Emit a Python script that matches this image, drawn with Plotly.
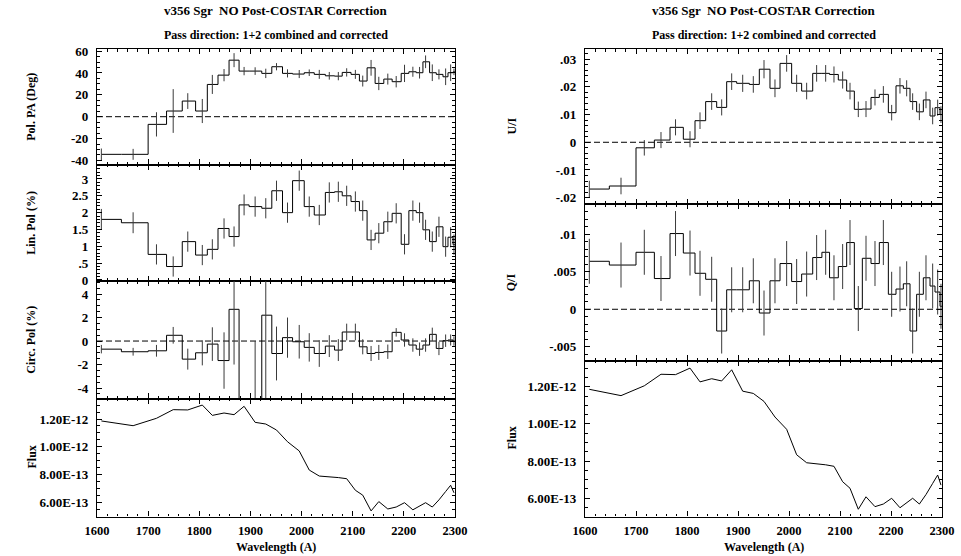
import plotly.graph_objects as go

W, H = 961, 556

# ---------------- data ----------------
bin_centers = [1608.5, 1670.6, 1716.3, 1749.0, 1777.5, 1805.9, 1825.5, 1848.4, 1868.0, 1887.6,
               1909.2, 1930.0, 1951.0, 1972.5, 1995.4, 2015.0, 2034.6, 2054.2, 2071.9, 2088.2,
               2105.2, 2119.6, 2135.9, 2151.0, 2168.6, 2185.0, 2201.3, 2217.6, 2230.7, 2242.5,
               2255.6, 2268.6, 2281.7, 2291.5, 2298.0]
bin_edges = [1608.5, 1647.7, 1700.0, 1736.0, 1766.7, 1792.8, 1815.7, 1836.6, 1858.2, 1877.8,
             1897.4, 1922.2, 1941.8, 1962.7, 1982.4, 2005.2, 2024.8, 2046.5, 2064.5, 2079.5,
             2096.7, 2113.1, 2128.1, 2143.8, 2160.8, 2177.1, 2194.8, 2209.8, 2224.2, 2237.3,
             2250.3, 2263.4, 2276.5, 2286.3, 2296.1, 2300.0]

pol_pa = [-34.4, -34.4, -7.0, 5.2, 14.3, 5.2, 29.5, 38.0, 51.7, 41.7,
          41.7, 39.6, 45.7, 39.6, 39.0, 40.2, 38.7, 37.4, 37.1, 40.5,
          38.7, 32.6, 44.7, 30.4, 34.4, 32.0, 39.6, 41.1, 40.2, 50.2,
          40.2, 38.7, 36.5, 40.2, 41.0]
pol_pa_err = [5.3, 5.0, 11.1, 20.0, 7.2, 11.0, 8.7, 5.6, 6.4, 3.8,
              3.5, 4.3, 3.3, 3.7, 3.7, 3.0, 4.1, 3.5, 3.8, 3.8,
              4.1, 5.0, 7.2, 6.1, 5.0, 5.2, 7.9, 4.6, 5.3, 5.8,
              7.6, 4.6, 7.6, 7.6, 3.0]

lin_pol = [1.80, 1.70, 0.76, 0.40, 1.14, 0.74, 0.91, 1.53, 1.29, 2.23,
           2.18, 2.13, 2.65, 2.00, 2.95, 2.18, 1.93, 2.60, 2.62, 2.50,
           2.33, 2.06, 1.19, 1.39, 1.73, 1.98, 1.06, 2.06, 2.00, 1.49,
           1.14, 1.58, 0.99, 1.27, 1.05]
lin_pol_err = [0.31, 0.31, 0.30, 0.30, 0.30, 0.30, 0.30, 0.30, 0.30, 0.31,
               0.30, 0.30, 0.30, 0.30, 0.30, 0.30, 0.30, 0.30, 0.30, 0.30,
               0.30, 0.30, 0.30, 0.30, 0.30, 0.30, 0.30, 0.30, 0.30, 0.30,
               0.30, 0.30, 0.30, 0.30, 0.30]

circ_pol = [-0.69, -0.91, -0.83, 0.49, -1.54, -1.00, -0.26, -1.66, 2.70, -9.0,
            -6.0, 2.20, -1.06, 0.29, -0.06, -0.54, -1.06, -0.43, -0.77, 0.77,
            0.77, -0.49, -1.06, -0.97, -0.91, 0.74, 0.09, -0.34, -0.69, -0.34,
            0.57, -0.63, 0.03, 0.09, 0.00]
circ_pol_err = [0.36, 0.33, 0.50, 0.71, 0.89, 1.07, 1.43, 2.40, 4.70, 3.0,
                6.0, 7.5, 2.29, 1.71, 1.43, 1.21, 1.14, 0.93, 0.93, 0.71,
                0.71, 0.64, 0.64, 0.64, 0.61, 0.36, 0.57, 0.57, 0.57, 0.57,
                0.57, 0.57, 0.53, 0.47, 0.40]

u_over_i = [-0.0169, -0.0158, -0.0020, 0.0008, 0.0054, 0.0011, 0.0078, 0.0147, 0.0126, 0.0219,
            0.0213, 0.0209, 0.0264, 0.0195, 0.0285, 0.0213, 0.0185, 0.0249, 0.0249, 0.0245,
            0.0225, 0.0185, 0.0119, 0.0120, 0.0162, 0.0173, 0.0107, 0.0204, 0.0195, 0.0147,
            0.0110, 0.0153, 0.0095, 0.0125, 0.0100]
u_over_i_err = [0.0030, 0.0030, 0.0028, 0.0029, 0.0029, 0.0029, 0.0030, 0.0030, 0.0029, 0.0030,
                0.0031, 0.0030, 0.0033, 0.0032, 0.0030, 0.0031, 0.0030, 0.0030, 0.0030, 0.0029,
                0.0031, 0.0030, 0.0028, 0.0029, 0.0029, 0.0030, 0.0028, 0.0028, 0.0029, 0.0030,
                0.0030, 0.0030, 0.0030, 0.0029, 0.0030]

q_over_i = [0.0064, 0.0059, 0.0076, 0.0041, 0.0101, 0.0075, 0.0048, 0.0040, -0.0029, 0.0026,
            0.0026, 0.0038, -0.0005, 0.0038, 0.0061, 0.0037, 0.0047, 0.0069, 0.0076, 0.0042,
            0.0057, 0.0089, 0.0001, 0.0068, 0.0061, 0.0089, 0.0020, 0.0027, 0.0034, -0.0029,
            0.0020, 0.0042, 0.0031, 0.0023, 0.0004]
q_over_i_err = [0.0030, 0.0030, 0.0030, 0.0030, 0.0030, 0.0030, 0.0030, 0.0030, 0.0030, 0.0030,
                0.0030, 0.0030, 0.0030, 0.0030, 0.0030, 0.0030, 0.0030, 0.0030, 0.0030, 0.0030,
                0.0030, 0.0030, 0.0030, 0.0030, 0.0030, 0.0030, 0.0030, 0.0030, 0.0030, 0.0030,
                0.0030, 0.0030, 0.0030, 0.0030, 0.0030]

flux = [1.186e-12, 1.152e-12, 1.205e-12, 1.267e-12, 1.265e-12, 1.300e-12, 1.226e-12, 1.243e-12, 1.231e-12, 1.291e-12,
        1.176e-12, 1.164e-12, 1.121e-12, 1.037e-12, 0.971e-12, 0.834e-12, 0.791e-12, 0.787e-12, 0.780e-12, 0.772e-12,
        0.689e-12, 0.654e-12, 0.541e-12, 0.608e-12, 0.555e-12, 0.569e-12, 0.600e-12, 0.549e-12, 0.575e-12, 0.600e-12,
        0.569e-12, 0.620e-12, 0.680e-12, 0.725e-12, 0.671e-12]

x_ticks = [1600, 1700, 1800, 1900, 2000, 2100, 2200, 2300]

title_main = "v356 Sgr  NO Post-COSTAR Correction"
title_sub = "Pass direction: 1+2 combined and corrected"
x_title = "Wavelength (A)"

# ---------------- layout geometry ----------------
FONT = "Liberation Serif, Times New Roman, serif"
LEFT = (97, 455)
RIGHT = (585, 942)

panels = [
    dict(col=LEFT, top=49, bot=164.5, rng=[-43.7, 61.9], tv=[-40, -20, 0, 20, 40, 60],
         tt=["-40", "-20", "0", "20", "40", "60"], minor=5, title="Pol. PA (Deg)",
         vals=pol_pa, err=pol_pa_err, zero=True),
    dict(col=LEFT, top=164.5, bot=281, rng=[-0.03, 3.43], tv=[0, 0.5, 1, 1.5, 2, 2.5, 3],
         tt=["0", ".5", "1", "1.5", "2", "2.5", "3"], minor=0.1, title="Lin. Pol (%)",
         vals=lin_pol, err=lin_pol_err, zero=False),
    dict(col=LEFT, top=281, bot=398.5, rng=[-4.89, 5.11], tv=[-4, -2, 0, 2, 4],
         tt=["-4", "-2", "0", "2", "4"], minor=0.5, title="Circ. Pol (%)",
         vals=circ_pol, err=circ_pol_err, zero=True),
    dict(col=LEFT, top=398.5, bot=516.5, rng=[5.01e-13, 1.347e-12], tv=[6e-13, 8e-13, 1e-12, 1.2e-12],
         tt=["6.00E-13", "8.00E-13", "1.00E-12", "1.20E-12"], minor=5e-14, title="Flux",
         vals=flux, err=None, zero=False),
    dict(col=RIGHT, top=49, bot=204, rng=[-0.0223, 0.0337], tv=[-0.02, -0.01, 0, 0.01, 0.02, 0.03],
         tt=["-.02", "-.01", "0", ".01", ".02", ".03"], minor=0.002, title="U/I",
         vals=u_over_i, err=u_over_i_err, zero=True),
    dict(col=RIGHT, top=204, bot=360.5, rng=[-0.00683, 0.01404], tv=[-0.005, 0, 0.005, 0.01],
         tt=["-.005", "0", ".005", ".01"], minor=0.001, title="Q/I",
         vals=q_over_i, err=q_over_i_err, zero=True),
    dict(col=RIGHT, top=360.5, bot=516.5, rng=[5.02e-13, 1.341e-12], tv=[6e-13, 8e-13, 1e-12, 1.2e-12],
         tt=["6.00E-13", "8.00E-13", "1.00E-12", "1.20E-12"], minor=5e-14, title="Flux",
         vals=flux, err=None, zero=False),
]

fig = go.Figure()
layout = dict(template="none", width=W, height=H, autosize=False,
              margin=dict(l=0, r=0, t=0, b=0, pad=0),
              paper_bgcolor="white", plot_bgcolor="white", showlegend=False,
              font=dict(family=FONT, color="black"))
annotations = []
shapes = []

tickfont = dict(family=FONT, size=13, color="black")


def bold(labels):
    return ["<b>" + s + "</b>" for s in labels]


for i, p in enumerate(panels, start=1):
    xa = "x" if i == 1 else f"x{i}"
    ya = "y" if i == 1 else f"y{i}"
    is_bottom = p["bot"] > 500
    if p["err"] is None:
        fig.add_trace(go.Scatter(x=bin_centers, y=p["vals"], mode="lines",
                                 line=dict(color="black", width=1), xaxis=xa, yaxis=ya,
                                 hoverinfo="skip"))
    else:
        step_y = list(p["vals"]) + [p["vals"][-1]]
        fig.add_trace(go.Scatter(x=bin_edges, y=step_y, mode="lines",
                                 line=dict(color="black", width=1, shape="hv"),
                                 xaxis=xa, yaxis=ya, hoverinfo="skip"))
        fig.add_trace(go.Scatter(x=bin_centers, y=p["vals"], mode="markers",
                                 marker=dict(size=1, opacity=0),
                                 error_y=dict(type="data", array=p["err"], visible=True,
                                              width=0, thickness=1, color="#3a3a3a"),
                                 xaxis=xa, yaxis=ya, hoverinfo="skip"))
    if p["zero"]:
        shapes.append(dict(type="line", xref=f"{xa} domain", yref=ya, x0=0, x1=1, y0=0, y1=0,
                           line=dict(color="black", width=1, dash="6px,3px"), layer="below"))

    xl, xr = p["col"]
    layout["xaxis" if i == 1 else f"xaxis{i}"] = dict(
        domain=[xl / W, xr / W], anchor=ya, range=[1600, 2300], automargin=False,
        showline=True, linecolor="black", linewidth=1.2, mirror="ticks",
        ticks="inside", ticklen=5, tickwidth=1, tickcolor="black",
        tickmode="array", tickvals=x_ticks, ticktext=bold([str(v) for v in x_ticks]),
        showticklabels=is_bottom, tickfont=dict(family=FONT, size=12.5, color="black"),
        ticklabelstandoff=2,
        minor=dict(dtick=20, tick0=1600, ticks="inside", ticklen=2.5, tickwidth=1, tickcolor="black"),
        showgrid=False, zeroline=False, fixedrange=True)
    layout["yaxis" if i == 1 else f"yaxis{i}"] = dict(
        domain=[1 - p["bot"] / H, 1 - p["top"] / H], anchor=xa, range=p["rng"], automargin=False,
        showline=True, linecolor="black", linewidth=1.2, mirror="ticks",
        ticks="inside", ticklen=5, tickwidth=1, tickcolor="black",
        tickmode="array", tickvals=p["tv"], ticktext=bold(p["tt"]), tickfont=tickfont,
        ticklabelstandoff=5,
        minor=dict(dtick=p["minor"], tick0=0, ticks="inside", ticklen=2.5, tickwidth=1, tickcolor="black"),
        showgrid=False, zeroline=False, fixedrange=True)

    tx = 31 if p["col"] == LEFT else 511
    annotations.append(dict(text="<b>" + p["title"] + "</b>", xref="paper", yref="paper",
                            x=tx / W, y=1 - (p["top"] + p["bot"]) / 2 / H,
                            xanchor="center", yanchor="middle", textangle=-90, showarrow=False,
                            font=dict(family=FONT, size=12, color="black")))

for (xl, xr) in (LEFT, RIGHT):
    cx = (xl + xr) / 2 / W
    annotations.append(dict(text="<b>" + title_main + "</b>", xref="paper", yref="paper",
                            x=cx, y=1 - 11 / H, xanchor="center", yanchor="middle", showarrow=False,
                            font=dict(family=FONT, size=13, color="black")))
    annotations.append(dict(text="<b>" + title_sub + "</b>", xref="paper", yref="paper",
                            x=cx, y=1 - 35 / H, xanchor="center", yanchor="middle", showarrow=False,
                            font=dict(family=FONT, size=12, color="black")))
    annotations.append(dict(text="<b>" + x_title + "</b>", xref="paper", yref="paper",
                            x=cx, y=1 - 547 / H, xanchor="center", yanchor="middle", showarrow=False,
                            font=dict(family=FONT, size=12, color="black")))

layout["annotations"] = annotations
layout["shapes"] = shapes
fig.update_layout(**layout)

fig.write_html("out.html", config={"displayModeBar": False},
               post_script="document.body.style.margin='0';document.body.style.overflow='hidden';")
